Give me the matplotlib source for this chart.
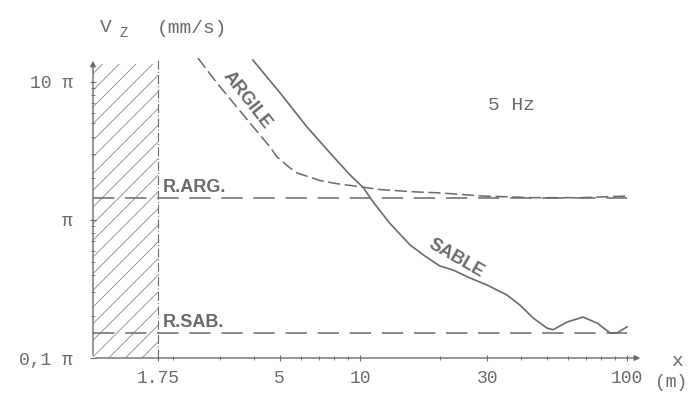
import matplotlib
matplotlib.use("Agg")
import matplotlib.pyplot as plt

# values are in units of pi (mm/s), distance x in m
sable_x = [3.97, 5.02, 6.33, 7.72, 9.17, 10.3, 11.2, 12.9, 15.4, 17.5, 19.9, 22.3, 25.8,
           29.9, 35.5, 39.7, 44.5, 50.1, 52.8, 59.6, 68.4, 77.3, 86.4, 91.8, 100]
sable_v = [14.4, 8.32, 4.72, 3.06, 2.12, 1.71, 1.35, 0.951, 0.659, 0.548, 0.464, 0.434, 0.38,
           0.338, 0.286, 0.242, 0.195, 0.165, 0.16, 0.182, 0.198, 0.179, 0.152, 0.152, 0.168]

argile_x = [2.47, 2.91, 3.87, 4.6, 4.89, 5.47, 5.81, 6.5, 7.08, 8.2, 9.17, 11.9, 15.8,
            19.9, 28.9, 44.5, 66.7, 100]
argile_v = [14.9, 9.84, 5.05, 3.38, 2.86, 2.38, 2.19, 2.04, 1.93, 1.83, 1.78, 1.66, 1.6,
            1.57, 1.49, 1.45, 1.45, 1.49]

r_arg = 1.45   # R.ARG. threshold
r_sab = 0.152  # R.SAB. threshold
x_near = 1.75  # limit of near zone (hatched)

xticks = [1.75, 5, 10, 30, 100]
xticklabels = ["1.75", "5", "10", "30", "100"]
yticks = [0.1, 1, 10]
yticklabels = ["0,1 \u03c0", "\u03c0", "10 \u03c0"]

grey = "#6a6a6a"
mono = "Liberation Mono"
plt.rcParams["hatch.linewidth"] = 0.6

fig = plt.figure(figsize=(6.95, 3.95), dpi=100)
ax = fig.add_axes([93 / 695, 37 / 395, 550 / 695, 300 / 395])
ax.set_xscale("log")
ax.set_yscale("log")
ax.set_xlim(1, 114.8)
ax.set_ylim(0.1, 14.9)

# hatched near zone
ax.fill_between([1, x_near], 0.1, 13.5, facecolor="none", edgecolor="#8a8a8a",
                hatch="//", linewidth=0)
ax.plot([x_near, x_near], [0.1, 14.9], color=grey, lw=0.8,
        linestyle=(0, (8, 2, 1, 2)))

# threshold lines
ax.plot([1, 100], [r_arg, r_arg], color=grey, lw=1.1, linestyle=(0, (14, 7)))
ax.plot([1, 100], [r_sab, r_sab], color=grey, lw=1.1, linestyle=(0, (14, 7)))

# curves
ax.plot(argile_x, argile_v, color=grey, lw=1.1, linestyle=(0, (8, 3)))
ax.plot(sable_x, sable_v, color=grey, lw=1.2)

# labels on the curves
bold = dict(color=grey, fontsize=13, fontweight="bold", family="Liberation Sans")
ax.text(1.83, r_arg * 1.03, "R.ARG.", ha="left", va="bottom", **bold)
ax.text(1.83, r_sab * 1.03, "R.SAB.", ha="left", va="bottom", **bold)
ax.text(3.77, 7.4, "ARGILE", ha="center", va="center", rotation=-52, **bold)
ax.text(22.9, 0.53, "SABLE", ha="center", va="center", rotation=-30, **bold)
ax.text(36.8, 6.7, "5 Hz", ha="center", va="center", color=grey, fontsize=14, family=mono)

# axes with arrows
for s in ["top", "right", "left", "bottom"]:
    ax.spines[s].set_visible(False)
arrow = dict(arrowstyle="-|>", color=grey, lw=1.0, mutation_scale=8)
ax.annotate("", xy=(0, 1), xytext=(0, 0), xycoords="axes fraction", arrowprops=arrow)
ax.annotate("", xy=(1, 0), xytext=(0, 0), xycoords="axes fraction", arrowprops=arrow)

ax.set_xticks(xticks)
ax.set_xticklabels(xticklabels)
ax.set_yticks(yticks)
ax.set_yticklabels(yticklabels)
ax.tick_params(which="major", direction="inout", length=5, width=0.8, color=grey,
               labelcolor=grey, labelsize=13)
ax.tick_params(which="minor", direction="inout", length=3, width=0.6, color=grey)
ax.tick_params(axis="x", pad=6)
ax.tick_params(axis="y", pad=12)
for lab in ax.get_xticklabels() + ax.get_yticklabels():
    lab.set_family(mono)
ax.xaxis.set_minor_formatter(plt.NullFormatter())
ax.yaxis.set_minor_formatter(plt.NullFormatter())

# axis titles
fig.text(100 / 695, 1 - 32 / 395, "V", color=grey, fontsize=14, family=mono)
fig.text(120 / 695, 1 - 37 / 395, "Z", color=grey, fontsize=10, family=mono)
fig.text(157 / 695, 1 - 33 / 395, "(mm/s)", color=grey, fontsize=14, family=mono)
fig.text(677 / 695, 1 - 366 / 395, "x", color=grey, fontsize=14, family=mono, ha="center")
fig.text(655 / 695, 1 - 387 / 395, "(m)", color=grey, fontsize=13, family=mono)

fig.savefig("out.png", dpi=100)
